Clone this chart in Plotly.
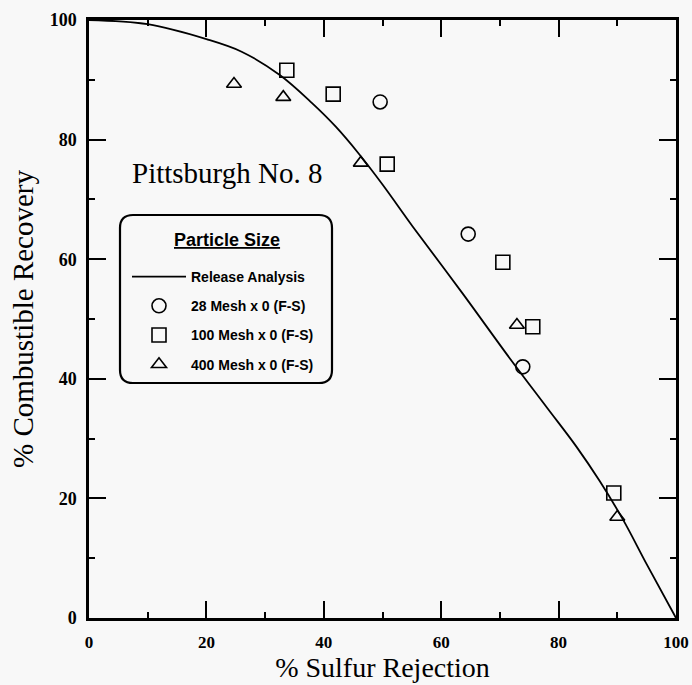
import plotly.graph_objects as go

# Release analysis curve (% sulfur rejection vs % combustible recovery)
release_x = [0, 10, 20, 26, 32.5, 38, 42, 46, 50, 55.2, 63.7, 71.7, 78, 83, 87, 91, 95, 100]
release_y = [100, 99.3, 96.8, 94.7, 90.8, 86.1, 82.2, 77.6, 72.5, 65.4, 54.2, 43.4, 35.2, 28.7, 22.9, 16.4, 9.0, 0]

# Froth flotation (F-S) results by particle size
mesh28_x = [49.6, 64.6, 73.9]
mesh28_y = [86.3, 64.2, 42.0]

mesh100_x = [33.7, 41.6, 50.8, 70.5, 75.6, 89.4]
mesh100_y = [91.6, 87.6, 75.9, 59.5, 48.7, 20.9]

mesh400_x = [24.7, 33.1, 46.3, 72.9, 90.0]
mesh400_y = [89.3, 87.1, 76.1, 49.0, 16.9]

x_ticks = [0, 20, 40, 60, 80, 100]
y_ticks = [0, 20, 40, 60, 80, 100]

SERIF = "Liberation Serif"
SANS = "Liberation Sans"
BG = "#f8f8f8"

W, H = 692, 685
ML, MR, MT, MB = 89, 16, 20, 67
PW, PH = W - ML - MR, H - MT - MB


def px_to_paper(px, py):
    return (px - ML) / PW, (MT + PH - py) / PH


fig = go.Figure()

fig.add_trace(go.Scatter(
    x=release_x, y=release_y, mode="lines", name="Release Analysis",
    line=dict(color="black", width=1.8, shape="spline", smoothing=1.0),
    legendgroup="a",
))
fig.add_trace(go.Scatter(
    x=mesh28_x, y=mesh28_y, mode="markers", name="28 Mesh x 0 (F-S)",
    marker=dict(symbol="circle-open", size=14, color="black", line=dict(width=1.6)),
    legendgroup="b",
))
fig.add_trace(go.Scatter(
    x=mesh100_x, y=mesh100_y, mode="markers", name="100 Mesh x 0 (F-S)",
    marker=dict(symbol="square-open", size=14, color="black", line=dict(width=1.6)),
    legendgroup="c",
))
fig.add_trace(go.Scatter(
    x=mesh400_x, y=mesh400_y, mode="markers", name="400 Mesh x 0 (F-S)",
    marker=dict(symbol="triangle-up-open", size=13, color="black", line=dict(width=1.6)),
    legendgroup="d",
))

# Rounded frame around the legend
bx0, by0 = px_to_paper(120, 383)
bx1, by1 = px_to_paper(332, 215)
rx, ry = 13 / PW, 13 / PH
frame = (
    f"M{bx0 + rx},{by0} L{bx1 - rx},{by0} Q{bx1},{by0} {bx1},{by0 + ry} "
    f"L{bx1},{by1 - ry} Q{bx1},{by1} {bx1 - rx},{by1} "
    f"L{bx0 + rx},{by1} Q{bx0},{by1} {bx0},{by1 - ry} "
    f"L{bx0},{by0 + ry} Q{bx0},{by0} {bx0 + rx},{by0} Z"
)

lx, ly = px_to_paper(127, 261)
tx, ty = px_to_paper(227, 240)

axis_common = dict(
    showline=True, linecolor="black", linewidth=2.5, mirror="allticks",
    ticks="inside", ticklen=17, tickwidth=2, tickcolor="black",
    showgrid=False, zeroline=False, automargin=False,
)

fig.update_layout(
    width=W, height=H,
    margin=dict(l=ML, r=MR, t=MT, b=MB),
    paper_bgcolor=BG, plot_bgcolor=BG,
    xaxis=dict(
        range=[0, 100], tickvals=x_ticks, ticktext=[str(v) for v in x_ticks],
        minor=dict(dtick=10, ticklen=6, tickwidth=2, ticks="inside", tickcolor="black"),
        ticklabelstandoff=7,
        tickfont=dict(family=SERIF, size=17, color="black", weight="bold"),
        title=dict(text="% Sulfur Rejection", font=dict(family=SERIF, size=28, color="black"), standoff=2),
        **axis_common,
    ),
    yaxis=dict(
        range=[0, 100], tickvals=y_ticks, ticktext=[str(v) for v in y_ticks],
        minor=dict(dtick=10, ticklen=6, tickwidth=2, ticks="inside", tickcolor="black"),
        ticklabelstandoff=6,
        tickfont=dict(family=SERIF, size=18, color="black", weight="bold"),
        title=dict(text="% Combustible Recovery", font=dict(family=SERIF, size=29, color="black"), standoff=8),
        **axis_common,
    ),
    showlegend=True,
    legend=dict(
        x=lx, y=ly, xanchor="left", yanchor="top",
        bgcolor="rgba(0,0,0,0)", borderwidth=0,
        traceorder="grouped", tracegroupgap=8,
        itemwidth=54,
        font=dict(family=SANS, size=14, color="black", weight="bold"),
    ),
    shapes=[dict(type="path", path=frame, xref="paper", yref="paper",
                 line=dict(color="black", width=2.2), layer="above")],
    annotations=[
        dict(text="Pittsburgh No. 8", x=23.5, y=74.4, xref="x", yref="y",
             showarrow=False, font=dict(family=SERIF, size=29, color="black")),
        dict(text="<u>Particle Size</u>", x=tx, y=ty, xref="paper", yref="paper",
             xanchor="center", yanchor="middle", showarrow=False,
             font=dict(family=SANS, size=18, color="black", weight="bold")),
    ],
)

fig.write_html("out.html")
